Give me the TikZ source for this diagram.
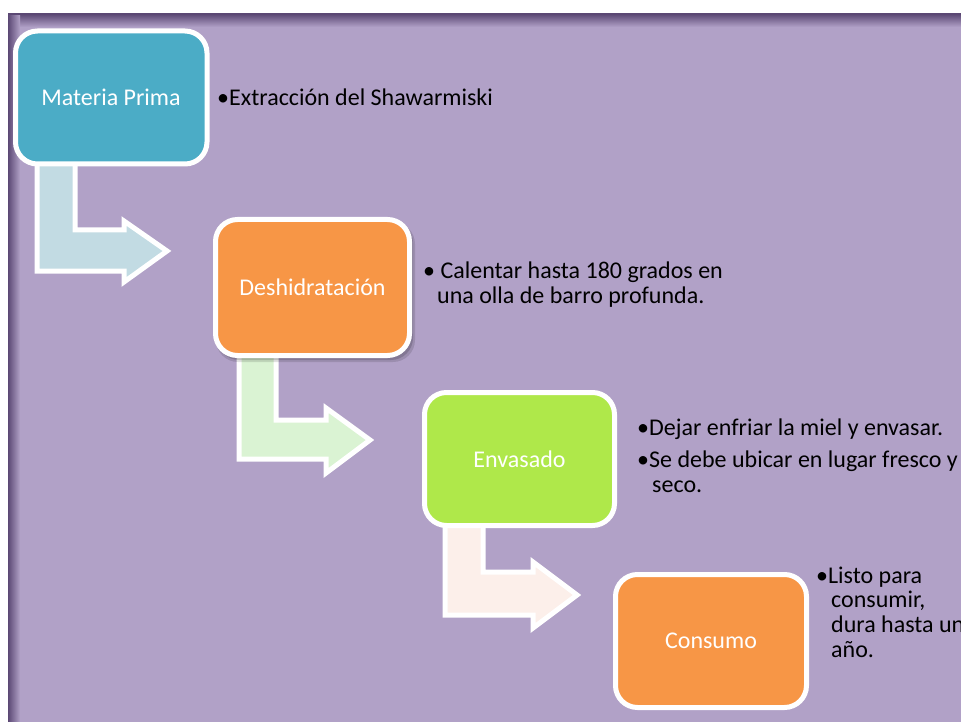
\documentclass[tikz,border=0pt]{standalone}
\usepackage{fontspec}
\setmainfont{Carlito}
\definecolor{bgpurple}{HTML}{B1A1C7}
\definecolor{framedark}{HTML}{5B4874}
\definecolor{tealbox}{HTML}{4BACC6}
\definecolor{orangebox}{HTML}{F79646}
\definecolor{greenbox}{HTML}{AFE84A}
\definecolor{arrowblue}{HTML}{C2DBE3}
\definecolor{arrowgreen}{HTML}{DAF3D3}
\definecolor{arrowpink}{HTML}{FCEFEA}
\begin{document}
\begin{tikzpicture}[x=1pt,y=-1pt,
  stepbox/.style={draw=white,line width=5pt,rounded corners=22pt},
  boxlabel/.style={text=white,font=\fontsize{24}{28}\selectfont,inner sep=0pt},
  bentarrow/.style={draw=white,line width=5pt,line join=miter},
  desc/.style={anchor=base west,inner sep=0pt,font=\fontsize{24}{28}\selectfont,text=black}]
\useasboundingbox (0,0) rectangle (961,722);
\fill[white] (0,0) rectangle (961,722);
\begin{scope}
\clip (8,14) rectangle (961,722);
\fill[bgpurple] (8,14) rectangle (961,722);
\shade[top color=framedark, bottom color=bgpurple] (8,14) rectangle (961,27);
\shade[left color=framedark, right color=bgpurple] (8,14) rectangle (20,722);
\draw[framedark,line width=1.5pt] (8,722) -- (8,14) -- (961,14);

% arrows
\draw[bentarrow,fill=arrowblue] (37,160) -- (75,160) -- (75,230) -- (124,230) -- (124,221) -- (167,251) -- (124,282) -- (124,271) -- (37,271) -- cycle;
\draw[bentarrow,fill=arrowgreen] (239,350) -- (276,350) -- (276,420) -- (326,420) -- (326,408) -- (370,440) -- (326,473) -- (326,459) -- (239,459) -- cycle;
\draw[bentarrow,fill=arrowpink] (445,520) -- (483,520) -- (483,572) -- (533,572) -- (533,562) -- (577,595) -- (533,628) -- (533,615) -- (445,615) -- cycle;

% boxes
\draw[stepbox,fill=tealbox] (15.5,31) rectangle (207,164);
\node[boxlabel] (b1) at (111,97.5) {Materia Prima};

\fill[black,opacity=0.12,rounded corners=22pt] (216,222) rectangle (415,362);
\fill[black,opacity=0.15,rounded corners=22pt] (217,221) rectangle (413,360);
\draw[stepbox,fill=orangebox] (215.5,219.5) rectangle (409.5,355.5);
\node[boxlabel] (b2) at (312.5,287.5) {Deshidratación};

\draw[stepbox,fill=greenbox] (424.5,392.5) rectangle (614.5,525.5);
\node[boxlabel] (b3) at (519.5,459) {Envasado};

\draw[stepbox,fill=orangebox] (615.5,574.5) rectangle (806.5,707.5);
\node[boxlabel] (b4) at (711,641) {Consumo};

% descriptions
\node[desc] (t1) at (217,106) {•Extracción del Shawarmiski};
\node[desc] (t2a) at (423,278) {• Calentar hasta 180 grados en};
\node[desc] (t2b) at (437,303) {una olla de barro profunda.};
\node[desc] (t3a) at (637,435) {•Dejar enfriar la miel y envasar.};
\node[desc] (t3b) at (637,467) {•Se debe ubicar en lugar fresco y};
\node[desc] (t3c) at (652,492) {seco.};
\node[desc] (t4a) at (816,583) {•Listo para};
\node[desc] (t4b) at (831,607) {consumir,};
\node[desc] (t4c) at (831,632) {dura hasta un};
\node[desc] (t4d) at (831,657) {año.};
\end{scope}
\end{tikzpicture}
\end{document}
